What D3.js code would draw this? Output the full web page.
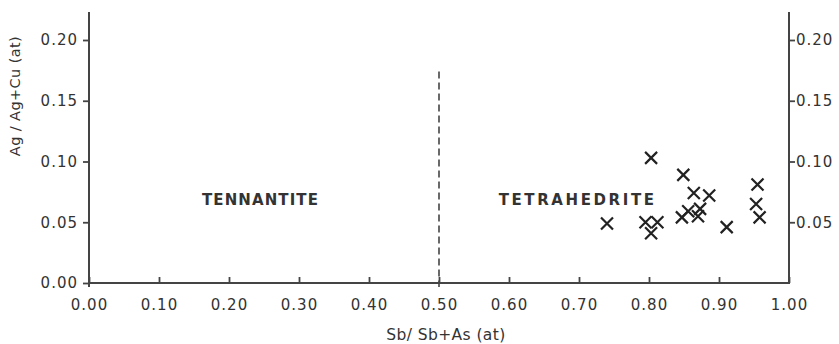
<!DOCTYPE html>
<html><head><meta charset="utf-8">
<script src="https://cdn.jsdelivr.net/npm/d3@7"></script>
<style>
body{margin:0;background:#fff;}
text{font-family:"DejaVu Sans",sans-serif;fill:#333;}
</style></head>
<body><svg id="c" width="839" height="344"></svg>
<script>
const xTicks = [0,0.1,0.2,0.3,0.4,0.5,0.6,0.7,0.8,0.9,1.0];
const xTickLabels = ["0.00","0.10","0.20","0.30","0.40","0.50","0.60","0.70","0.80","0.90","1.00"];
const yTicksLeft = [0,0.05,0.10,0.15,0.20];
const yTicksRight = [0.05,0.10,0.15,0.20];
const sbRatio = [0.740,0.795,0.812,0.803,0.803,0.849,0.864,0.886,0.847,0.856,0.873,0.870,0.911,0.955,0.953,0.958];
const agRatio = [0.049,0.050,0.050,0.041,0.103,0.089,0.074,0.072,0.054,0.059,0.061,0.055,0.046,0.081,0.065,0.054];
const boundary = [0.5, 0.174];
const regionLabels = [{t:"TENNANTITE",x:0.245,y:0.064},{t:"TETRAHEDRITE",x:0.698,y:0.064}];

const svg = d3.select("#c");
const x = d3.scaleLinear().domain([0,1]).range([89,789]);
const y = d3.scaleLinear().domain([0,0.2]).range([283,40]);
const axisColor = "#444";

// bottom axis (ticks inside)
const gx = svg.append("g").attr("transform","translate(0,283)")
  .call(d3.axisBottom(x).tickValues(xTicks).tickSizeInner(-6).tickSizeOuter(0).tickPadding(0).tickFormat((d,i)=>xTickLabels[i]));
gx.select(".domain").remove();
gx.selectAll(".tick line").attr("stroke",axisColor).attr("stroke-width",1.8);
gx.selectAll(".tick text").attr("y",16).attr("font-size",15).attr("letter-spacing","1px").attr("fill","#333");
svg.append("line").attr("x1",x(0)).attr("x2",x(1)).attr("y1",283).attr("y2",283).attr("stroke",axisColor).attr("stroke-width",2);

// left axis
const gl = svg.append("g").attr("transform","translate(89,0)")
  .call(d3.axisLeft(y).tickValues(yTicksLeft).tickSize(6).tickPadding(5).tickFormat(d3.format(".2f")));
gl.select(".domain").remove();
gl.selectAll(".tick line").attr("stroke",axisColor).attr("stroke-width",1.8);
gl.selectAll(".tick text").attr("font-size",15).attr("letter-spacing","1px").attr("fill","#333");
svg.append("line").attr("x1",89).attr("x2",89).attr("y1",12).attr("y2",287).attr("stroke",axisColor).attr("stroke-width",2);

// right axis
const gr = svg.append("g").attr("transform","translate(789,0)")
  .call(d3.axisRight(y).tickValues(yTicksRight).tickSize(6).tickPadding(1).tickFormat(d3.format(".2f")));
gr.select(".domain").remove();
gr.selectAll(".tick line").attr("stroke",axisColor).attr("stroke-width",1.8);
gr.selectAll(".tick text").attr("font-size",15).attr("letter-spacing","1px").attr("fill","#333");
svg.append("line").attr("x1",789).attr("x2",789).attr("y1",12).attr("y2",284).attr("stroke",axisColor).attr("stroke-width",2);

// dashed boundary
svg.append("line").attr("x1",x(boundary[0])).attr("x2",x(boundary[0]))
  .attr("y1",y(boundary[1])).attr("y2",y(0)+4)
  .attr("stroke","#444").attr("stroke-width",1.6).attr("stroke-dasharray","7,4");

// region labels
svg.selectAll("text.region").data(regionLabels).enter().append("text")
  .attr("class","region").attr("x",d=>x(d.x)).attr("y",d=>y(d.y))
  .attr("text-anchor","middle").attr("font-size",15).attr("font-weight","bold")
  .attr("letter-spacing",(d,i)=>i===0?"1.1px":"2.6px").attr("fill","#2a2a2a").text(d=>d.t);

// markers
const s = 6;
const pts = sbRatio.map((v,i)=>[v,agRatio[i]]);
const mk = svg.append("g").attr("stroke","#222").attr("stroke-width",2.2).attr("stroke-linecap","butt");
pts.forEach(p=>{
  const cx=x(p[0]), cy=y(p[1]);
  mk.append("path").attr("d",`M${cx-s},${cy-s}L${cx+s},${cy+s}M${cx-s},${cy+s}L${cx+s},${cy-s}`);
});

// axis titles
svg.append("text").attr("x",446).attr("y",340).attr("text-anchor","middle").attr("font-size",15.5).attr("letter-spacing","0.4px").text("Sb/ Sb+As (at)");
svg.append("text").attr("transform","translate(20,96) rotate(-90)").attr("text-anchor","middle").attr("font-size",14.5).attr("letter-spacing","0.4px").text("Ag / Ag+Cu (at)");
</script></body></html>
